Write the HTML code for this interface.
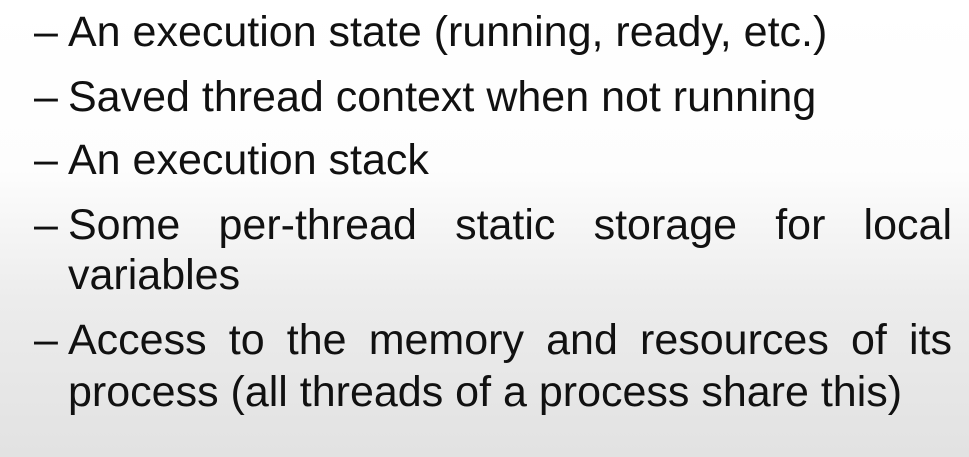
<!DOCTYPE html>
<html><head><style>
html,body{margin:0;padding:0}
body{width:969px;height:457px;overflow:hidden;position:relative;
background:linear-gradient(to bottom,#ffffff 0px,#fdfdfd 170px,#ececec 300px,#e2e2e2 457px);
font-family:"Liberation Sans",Arial,sans-serif;color:#111;}
.d{position:absolute;left:34px;font-size:43px;line-height:1}
.t{position:absolute;left:68px;font-size:43px;line-height:1;white-space:nowrap}
.j{width:884px;text-align:justify;text-align-last:justify;white-space:normal}
</style></head><body>
<div class="d" style="top:11px">–</div><div class="t" style="top:11px">An execution state (running, ready, etc.)</div>
<div class="d" style="top:76px">–</div><div class="t" style="top:76px">Saved thread context when not running</div>
<div class="d" style="top:139px">–</div><div class="t" style="top:139px">An execution stack</div>
<div class="d" style="top:204px">–</div><div class="t j" style="top:204px">Some per-thread static storage for local</div>
<div class="t" style="top:254px">variables</div>
<div class="d" style="top:319px">–</div><div class="t j" style="top:319px">Access to the memory and resources of its</div>
<div class="t" style="top:371px">process (all threads of a process share this)</div>
</body></html>
